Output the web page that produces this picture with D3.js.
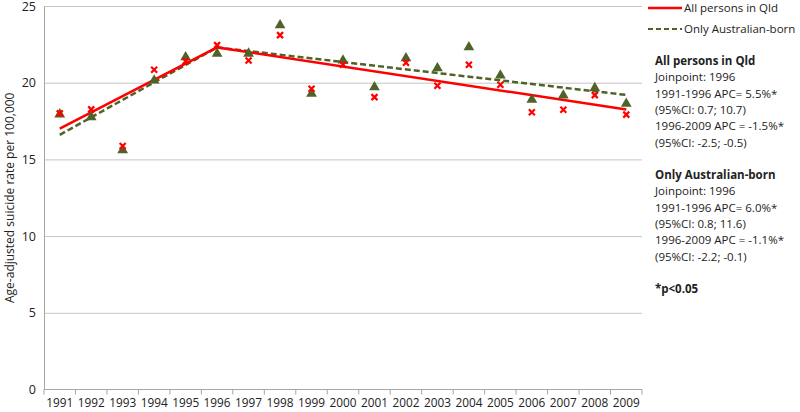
<!DOCTYPE html>
<html>
<head>
<meta charset="utf-8">
<script src="https://cdn.jsdelivr.net/npm/d3@7"></script>
<style>
  body { margin: 0; background: #fff; }
  text { font-family: "Open Sans", "Noto Sans", sans-serif; fill: #222; }
  .grid line { stroke: #c6c6c6; }
  .grid path { display: none; }
  .axis path, .axis line { stroke: #a6a6a6; }
</style>
</head>
<body>
<script>
// chart data
var years = ["1991","1992","1993","1994","1995","1996","1997","1998","1999","2000",
             "2001","2002","2003","2004","2005","2006","2007","2008","2009"];
// observed rates, all persons in Qld (red crosses)
var allPersons = [18.0, 18.26, 15.87, 20.85, 21.4, 22.45, 21.45, 23.1, 19.6, 21.17,
                  19.06, 21.3, 19.8, 21.17, 19.87, 18.07, 18.24, 19.19, 17.92];
// observed rates, only Australian-born (green triangles)
var ausBorn = [17.94, 17.76, 15.61, 20.15, 21.67, 21.89, 21.9, 23.75, 19.28, 21.45,
               19.71, 21.6, 20.95, 22.32, 20.47, 18.9, 19.17, 19.65, 18.63];
// joinpoint fitted lines
var fitAll = [["1991", 17.0], ["1996", 22.3], ["2009", 18.25]];
var fitAus = [["1991", 16.6], ["1996", 22.3], ["2009", 19.2]];
var yTicks = [0, 5, 10, 15, 20, 25];
var notes = [
  {t: "All persons in Qld", b: true},
  {t: "Joinpoint: 1996"},
  {t: "1991-1996 APC= 5.5%*"},
  {t: "(95%CI: 0.7; 10.7)"},
  {t: "1996-2009 APC = -1.5%*"},
  {t: "(95%CI: -2.5; -0.5)"},
  {t: ""},
  {t: "Only Australian-born", b: true},
  {t: "Joinpoint: 1996"},
  {t: "1991-1996 APC= 6.0%*"},
  {t: "(95%CI: 0.8; 11.6)"},
  {t: "1996-2009 APC = -1.1%*"},
  {t: "(95%CI: -2.2; -0.1)"},
  {t: ""},
  {t: " *p<0.05", b: true}
];

var w = 800, h = 412;
var m = {left: 44, right: 642, top: 6, bottom: 389.5};
var red = "#ff0000", green = "#4f6228";

var svg = d3.select("body").append("svg")
  .attr("width", w).attr("height", h);

var x = d3.scaleBand().domain(years).range([m.left, m.right]);
var y = d3.scaleLinear().domain([0, 25]).range([m.bottom, m.top]);
var cx = function(d){ return x(d) + x.bandwidth() / 2; };

// horizontal gridlines
svg.append("g").attr("class", "grid")
  .attr("transform", "translate(" + m.left + ",0)")
  .call(d3.axisLeft(y).tickValues(yTicks.slice(1)).tickSize(-(m.right - m.left)).tickFormat(""));

// y axis
var yAxis = svg.append("g").attr("class", "axis")
  .attr("transform", "translate(" + m.left + ",0)")
  .call(d3.axisLeft(y).tickValues(yTicks).tickSize(0).tickPadding(8));
yAxis.selectAll("text").style("font-size", "12.5px");

// x axis, ticks between categories
var xAxis = svg.append("g").attr("class", "axis")
  .attr("transform", "translate(0," + m.bottom + ")")
  .call(d3.axisBottom(x).tickSize(0).tickPadding(9));
xAxis.select(".domain").remove();
xAxis.selectAll("text").style("font-size", "11.8px");
xAxis.append("line").attr("x1", m.left).attr("x2", m.right).attr("stroke", "#a6a6a6");
xAxis.selectAll(".sep")
  .data(years.concat(["end"]))
  .enter().append("line")
  .attr("class", "sep")
  .attr("x1", function(d, i){ return m.left + i * x.bandwidth(); })
  .attr("x2", function(d, i){ return m.left + i * x.bandwidth(); })
  .attr("y1", 0).attr("y2", 5)
  .attr("stroke", "#a6a6a6");

// y axis title
svg.append("text")
  .attr("transform", "translate(14," + ((m.top + m.bottom) / 2) + ") rotate(-90)")
  .attr("text-anchor", "middle")
  .style("font-size", "12px")
  .text("Age-adjusted suicide rate per 100,000");

var line = d3.line().x(function(d){ return cx(d[0]); }).y(function(d){ return y(d[1]); });

// fitted lines
svg.append("path").datum(fitAus)
  .attr("d", line).attr("fill", "none")
  .attr("stroke", green).attr("stroke-width", 2.5).attr("stroke-dasharray", "6,3");
svg.append("path").datum(fitAll)
  .attr("d", line).attr("fill", "none")
  .attr("stroke", red).attr("stroke-width", 2.5);

// triangles
svg.selectAll(".tri")
  .data(ausBorn).enter().append("path")
  .attr("class", "tri")
  .attr("d", d3.symbol().type(d3.symbolTriangle).size(50))
  .attr("transform", function(d, i){ return "translate(" + cx(years[i]) + "," + y(d) + ")"; })
  .attr("fill", green);

// crosses
svg.selectAll(".cross")
  .data(allPersons).enter().append("path")
  .attr("class", "cross")
  .attr("d", "M-3,-3L3,3M3,-3L-3,3")
  .attr("transform", function(d, i){ return "translate(" + cx(years[i]) + "," + y(d) + ")"; })
  .attr("stroke", red).attr("stroke-width", 2.2).attr("fill", "none");

// legend
var legend = svg.append("g");
legend.append("line").attr("x1", 648).attr("x2", 682).attr("y1", 8).attr("y2", 8)
  .attr("stroke", red).attr("stroke-width", 2.5);
legend.append("text").attr("x", 684).attr("y", 8).attr("dy", "0.35em")
  .style("font-size", "11.5px").text("All persons in Qld");
legend.append("line").attr("x1", 648).attr("x2", 682).attr("y1", 29).attr("y2", 29)
  .attr("stroke", green).attr("stroke-width", 2).attr("stroke-dasharray", "5,3");
legend.append("text").attr("x", 684).attr("y", 29).attr("dy", "0.35em")
  .style("font-size", "11.5px").text("Only Australian-born");

// annotation
svg.selectAll(".note")
  .data(notes).enter().append("text")
  .attr("class", "note")
  .attr("x", 655)
  .attr("y", function(d, i){ return 61 + i * 16.3; })
  .attr("dy", "0.35em")
  .style("font-size", "11.5px")
  .style("font-weight", function(d){ return d.b ? "bold" : "normal"; })
  .text(function(d){ return d.t; });
</script>
</body>
</html>
